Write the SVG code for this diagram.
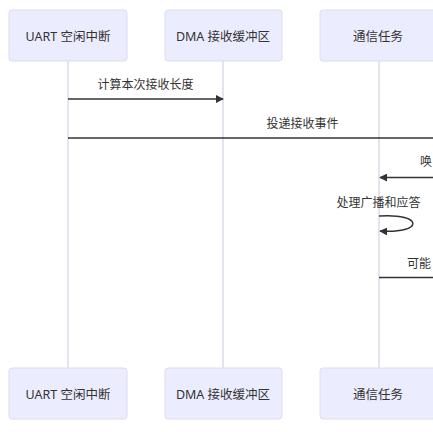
<svg xmlns="http://www.w3.org/2000/svg" width="433" height="432" viewBox="0 0 433 432">
<defs>
<marker id="arr" viewBox="0 0 10 10" refX="9" refY="5" markerWidth="8" markerHeight="8" markerUnits="userSpaceOnUse" orient="auto">
<path d="M0,0 L10,5 L0,10 z" fill="#333"/>
</marker>
</defs>
<style>
.actor{fill:#ececff;stroke:#dcdcf0;stroke-width:1}
.life{stroke:#d2d2e6;stroke-width:1.2}
.t{font-family:"Noto Sans","Noto Sans CJK SC",sans-serif;font-size:12.5px;fill:#333;dominant-baseline:central}
.m{font-family:"Noto Sans","Noto Sans CJK SC",sans-serif;font-size:12px;fill:#333;dominant-baseline:central}
.msg{stroke:#333;stroke-width:1.5;fill:none}
</style>
<rect width="433" height="432" fill="#ffffff"/>
<g id="lifelines">
<line class="life" x1="68" y1="61" x2="68" y2="368"/>
<line class="life" x1="223" y1="61" x2="223" y2="368"/>
<line class="life" x1="379" y1="61" x2="379" y2="368"/>
</g>
<g id="actor-uart-top"><rect class="actor" x="9" y="10" width="118" height="51" rx="3"/><text class="t" x="68" y="36" text-anchor="middle">UART 空闲中断</text></g>
<g id="actor-dma-top"><rect class="actor" x="165" y="10" width="117" height="51" rx="3"/><text class="t" x="223" y="36" text-anchor="middle">DMA 接收缓冲区</text></g>
<g id="actor-task-top"><rect class="actor" x="320" y="10" width="118" height="51" rx="3"/><text class="t" x="378" y="36" text-anchor="middle">通信任务</text></g>
<g id="actor-uart-bottom"><rect class="actor" x="9" y="368" width="118" height="51" rx="3"/><text class="t" x="68" y="394" text-anchor="middle">UART 空闲中断</text></g>
<g id="actor-dma-bottom"><rect class="actor" x="165" y="368" width="117" height="51" rx="3"/><text class="t" x="223" y="394" text-anchor="middle">DMA 接收缓冲区</text></g>
<g id="actor-task-bottom"><rect class="actor" x="320" y="368" width="118" height="51" rx="3"/><text class="t" x="378" y="394" text-anchor="middle">通信任务</text></g>
<g id="connectors">
<path class="msg" d="M68,99 H223" marker-end="url(#arr)"/>
<path class="msg" d="M68,138 H440"/>
<path class="msg" d="M440,177.5 H380" marker-end="url(#arr)"/>
<path class="msg" d="M379,216 C424,213 424,234 380,231" marker-end="url(#arr)"/>
<path class="msg" d="M379,277.5 H440"/>
</g>
<g id="labels">
<text class="m" x="145.5" y="84" text-anchor="middle">计算本次接收长度</text>
<text class="m" x="302.5" y="123" text-anchor="middle">投递接收事件</text>
<text class="m" x="420" y="161">唤</text>
<text class="m" x="378.5" y="202" text-anchor="middle">处理广播和应答</text>
<text class="m" x="407" y="263">可能</text>
</g>
</svg>
